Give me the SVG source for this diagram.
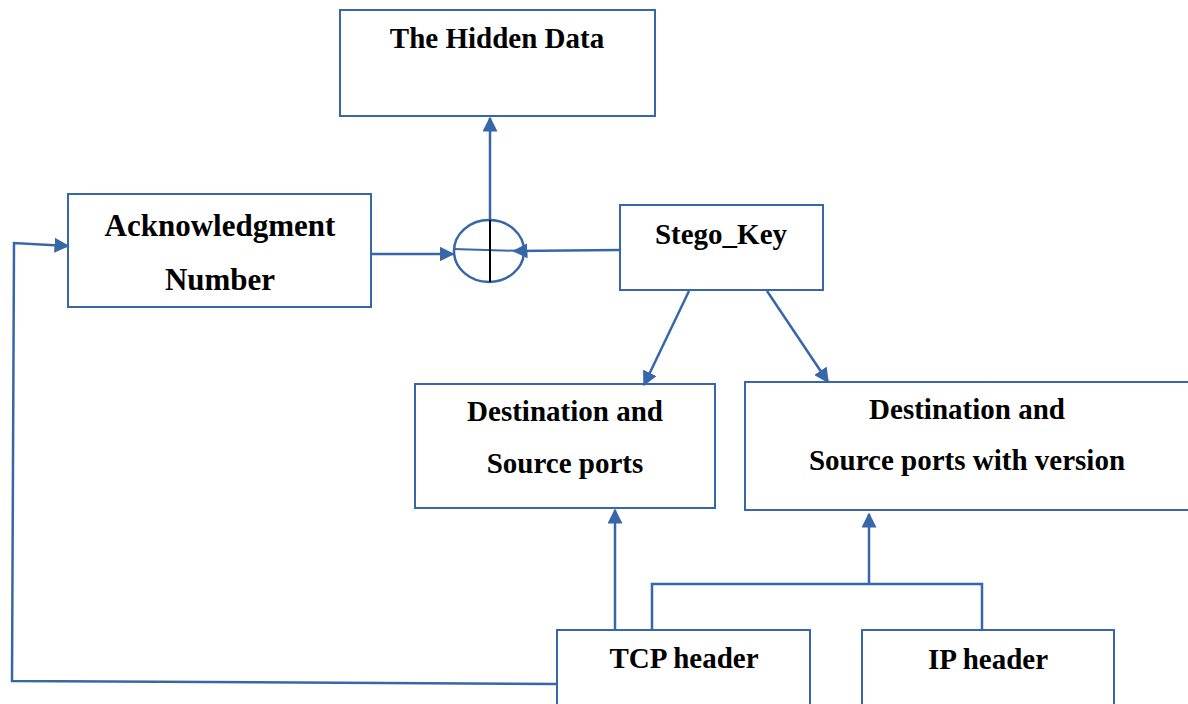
<svg xmlns="http://www.w3.org/2000/svg" width="1188" height="704" viewBox="0 0 1188 704">
<defs>
<style>
.box{fill:#fff;stroke:#3767a8;stroke-width:2}
.ln{fill:none;stroke:#3767a8;stroke-width:2.5}
.t{font-family:"Liberation Serif",serif;font-weight:bold;font-size:29px;fill:#000;text-anchor:middle}
</style>
<marker id="ah" viewBox="0 0 10 10" refX="9" refY="5" markerWidth="6" markerHeight="6" orient="auto" markerUnits="strokeWidth">
<path d="M0,0 L10,5 L0,10 z" fill="#3767a8"/>
</marker>
</defs>
<rect width="1188" height="704" fill="#fff"/>
<g id="hidden"><rect class="box" x="340" y="10" width="315" height="106"/><text class="t" x="497" y="48">The Hidden Data</text></g>
<g id="ack"><rect class="box" x="68" y="194" width="303" height="113"/><text class="t" x="220" y="236" style="font-size:31px">Acknowledgment</text><text class="t" x="220" y="290" style="font-size:31px">Number</text></g>
<g id="xor"><ellipse cx="489" cy="251" rx="35" ry="31" fill="#fff" stroke="#3767a8" stroke-width="2.5"/><line x1="453" y1="249" x2="523" y2="251" stroke="#3767a8" stroke-width="2"/><line x1="490" y1="220" x2="490" y2="282" stroke="#000" stroke-width="2"/></g>
<g id="stego"><rect class="box" x="620" y="205" width="203" height="85"/><text class="t" x="721" y="244">Stego_Key</text></g>
<g id="dest1"><rect class="box" x="415" y="384" width="300" height="124"/><text class="t" x="565" y="421">Destination and</text><text class="t" x="565" y="473">Source ports</text></g>
<g id="dest2"><rect class="box" x="745" y="382" width="460" height="128"/><text class="t" x="967" y="419">Destination and</text><text class="t" x="967" y="470">Source ports with version</text></g>
<g id="tcp"><rect class="box" x="557" y="630" width="253" height="90"/><text class="t" x="684" y="668">TCP header</text></g>
<g id="ip"><rect class="box" x="862" y="630" width="252" height="90"/><text class="t" x="988" y="669">IP header</text></g>
<g id="connectors">
<line class="ln" x1="490" y1="220" x2="490" y2="118" marker-end="url(#ah)"/>
<line class="ln" x1="371" y1="254" x2="453" y2="254" marker-end="url(#ah)"/>
<line class="ln" x1="620" y1="250" x2="514" y2="251" marker-end="url(#ah)"/>
<line class="ln" x1="689" y1="291" x2="644" y2="385" marker-end="url(#ah)"/>
<line class="ln" x1="767" y1="291" x2="828" y2="382" marker-end="url(#ah)"/>
<line class="ln" x1="615" y1="630" x2="615" y2="510" marker-end="url(#ah)"/>
<polyline class="ln" points="652,630 652,584 982,584 982,630"/>
<line class="ln" x1="869" y1="584" x2="869" y2="514" marker-end="url(#ah)"/>
<polyline class="ln" points="557,684 12,681 14,243 68,246" marker-end="url(#ah)"/>
</g>
</svg>
